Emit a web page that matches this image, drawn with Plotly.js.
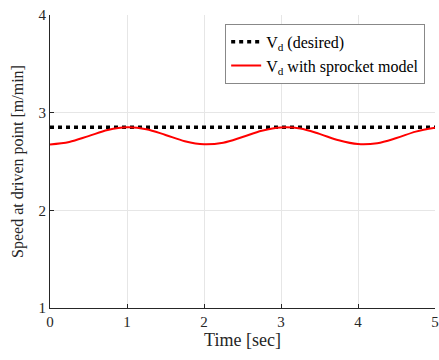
<!DOCTYPE html>
<html>
<head>
<meta charset="utf-8">
<script src="https://cdn.plot.ly/plotly-3.0.1.min.js"></script>
<style>html,body{margin:0;padding:0;background:#fff;}#chart{width:439px;height:360px;}</style>
</head>
<body>
<div id="chart"></div>
<script>
var time = [0, 0.25, 0.5, 0.75, 1.0, 1.25, 1.5, 1.75, 2.0, 2.25, 2.5, 2.75, 3.0, 3.25, 3.5, 3.75, 4.0, 4.25, 4.5, 4.75, 5.0];
var desired = [2.85, 2.85, 2.85, 2.85, 2.85, 2.85, 2.85, 2.85, 2.85, 2.85, 2.85, 2.85, 2.85, 2.85, 2.85, 2.85, 2.85, 2.85, 2.85, 2.85, 2.85];
var sprocket = [2.675, 2.700, 2.760, 2.822, 2.850, 2.831, 2.772, 2.708, 2.676, 2.693, 2.751, 2.815, 2.849, 2.838, 2.783, 2.717, 2.678, 2.687, 2.740, 2.806, 2.845];
var xTicks = [0, 1, 2, 3, 4, 5];
var yTicks = [1, 2, 3, 4];

var font = 'Liberation Serif';
var traces = [
  {x: time, y: desired, type: 'scatter', mode: 'lines', name: 'V<sub>d</sub> (desired)',
   line: {color: '#000000', width: 3.5, dash: '4px,4px'}},
  {x: time, y: sprocket, type: 'scatter', mode: 'lines', name: 'V<sub>d</sub> with sprocket model',
   line: {color: '#ff0000', width: 2, shape: 'spline', smoothing: 1}}
];
var layout = {
  width: 439, height: 360,
  margin: {l: 50, r: 4, t: 15, b: 52},
  paper_bgcolor: '#ffffff', plot_bgcolor: '#ffffff',
  font: {family: font, color: '#262626', size: 15},
  showlegend: true,
  legend: {x: 0.455, y: 0.97, xanchor: 'left', yanchor: 'top',
    bordercolor: '#888888', borderwidth: 1, bgcolor: '#ffffff',
    font: {family: font, size: 16, color: '#000000'}, tracegroupgap: 0},
  xaxis: {range: [0, 5], tickvals: xTicks, ticktext: xTicks.map(String),
    showgrid: true, gridcolor: '#e6e6e6', gridwidth: 1, zeroline: false,
    showline: true, linecolor: '#262626', linewidth: 1, ticks: 'inside', ticklen: 4,
    tickcolor: '#262626', mirror: false,
    title: {text: 'Time [sec]', font: {family: font, size: 18, color: '#262626'}, standoff: 4},
    tickfont: {family: font, size: 15, color: '#262626'}},
  yaxis: {range: [1, 4], tickvals: yTicks, ticktext: yTicks.map(String),
    showgrid: true, gridcolor: '#e6e6e6', gridwidth: 1, zeroline: false,
    showline: true, linecolor: '#262626', linewidth: 1, ticks: 'inside', ticklen: 4,
    tickcolor: '#262626', mirror: false,
    title: {text: 'Speed at driven point [m/min]', font: {family: font, size: 16, color: '#262626'}, standoff: 10},
    tickfont: {family: font, size: 15, color: '#262626'}}
};
Plotly.newPlot('chart', traces, layout, {displayModeBar: false, staticPlot: true});
</script>
</body>
</html>
